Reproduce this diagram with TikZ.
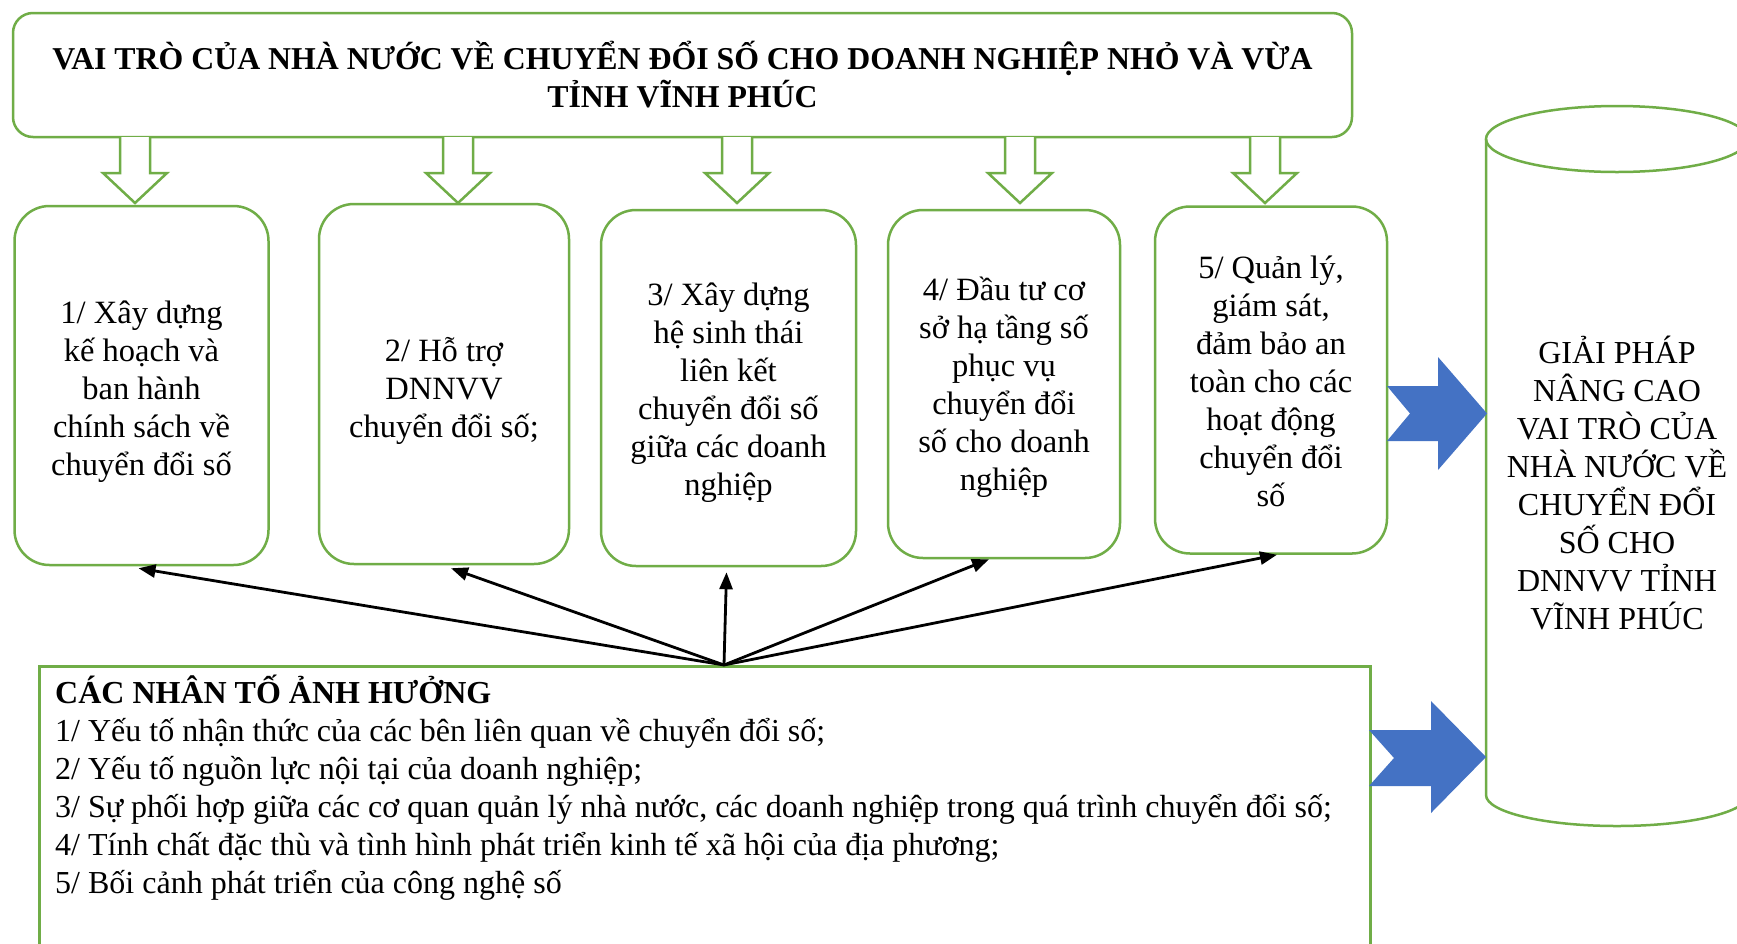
\documentclass[tikz,border=0pt]{standalone}
\usepackage{fontspec}
\setmainfont{Liberation Serif}
\usetikzlibrary{arrows.meta}
\definecolor{gr}{RGB}{112,173,71}
\definecolor{bl}{RGB}{68,114,196}
\newcommand{\toppad}[1]{\rule{0pt}{#1pt}}
\begin{document}
\begin{tikzpicture}[x=1pt,y=-1pt,
  gline/.style={draw=gr,line width=2.5pt},
  gbox/.style={gline,rounded corners=35pt,fill=white,align=center,inner sep=0pt,
    font=\fontsize{32.5}{38}\selectfont},
  hollow/.style={gline,fill=white,line join=miter},
  blockarrow/.style={fill=bl,draw=none},
  factor/.style={draw=black,line width=2.8pt,-{Triangle[length=17pt,width=13pt]}},
  txt/.style={inner sep=0pt,font=\fontsize{32}{38}\selectfont}]
\useasboundingbox (0,0) rectangle (1737,943);
\clip (0,0) rectangle (1737,943);
\fill[white] (0,0) rectangle (1737,943);

% top box
\node[gbox,rounded corners=20pt,minimum width=1339pt,minimum height=124pt,
  font=\fontsize{31.8}{38}\selectfont\bfseries] (top) at (682.5,75)
  {VAI TRÒ CỦA NHÀ NƯỚC VỀ CHUYỂN ĐỔI SỐ CHO DOANH NGHIỆP NHỎ VÀ VỪA\\TỈNH VĨNH PHÚC};

% five role boxes
\node[gbox,minimum width=254pt,minimum height=359pt] (b1) at (141.5,385.5)
  {\toppad{34}1/ Xây dựng\\kế hoạch và\\ban hành\\chính sách về\\chuyển đổi số};
\node[gbox,minimum width=250pt,minimum height=360pt] (b2) at (444,384)
  {\toppad{38}2/ Hỗ trợ\\DNNVV\\chuyển đổi số;};
\node[gbox,minimum width=255pt,minimum height=356pt] (b3) at (728.5,388)
  {\toppad{32}3/ Xây dựng\\hệ sinh thái\\liên kết\\chuyển đổi số\\giữa các doanh\\nghiệp};
\node[gbox,minimum width=232pt,minimum height=348pt] (b4) at (1004,384)
  {\toppad{30}4/ Đầu tư cơ\\sở hạ tầng số\\phục vụ\\chuyển đổi\\số cho doanh\\nghiệp};
\node[gbox,minimum width=232pt,minimum height=347pt] (b5) at (1271,380)
  {\toppad{26}5/ Quản lý,\\giám sát,\\đảm bảo an\\toàn cho các\\hoạt động\\chuyển đổi\\số};

% hollow green arrows from top box
\foreach \cx in {135,458,737,1020,1265}{
  \draw[hollow] (\cx-15,137) -- (\cx-15,173) -- (\cx-32,173) -- (\cx,203)
    -- (\cx+32,173) -- (\cx+15,173) -- (\cx+15,137);
}

% cylinder
\draw[gline,fill=white] (1486,139) -- (1486,795)
  arc[start angle=180,end angle=360,x radius=131pt,y radius=31pt] -- (1748,139);
\draw[gline] (1617,139) ellipse [x radius=131pt,y radius=33pt];
\node[txt,align=center] (sol) at (1617,483)
  {GIẢI PHÁP\\NÂNG CAO\\VAI TRÒ CỦA\\NHÀ NƯỚC VỀ\\CHUYỂN ĐỔI\\SỐ CHO\\DNNVV TỈNH\\VĨNH PHÚC};

% factor box
\node[draw=gr,line width=2.5pt,minimum width=1331pt,minimum height=320pt,anchor=north west,
  inner sep=0pt] (fac) at (38,665) {};
\node[txt,align=left,anchor=north west] (factxt) at (55,675)
  {\textbf{CÁC NHÂN TỐ ẢNH HƯỞNG}\\
   1/ Yếu tố nhận thức của các bên liên quan về chuyển đổi số;\\
   2/ Yếu tố nguồn lực nội tại của doanh nghiệp;\\
   3/ Sự phối hợp giữa các cơ quan quản lý nhà nước, các doanh nghiệp trong quá trình chuyển đổi số;\\
   4/ Tính chất đặc thù và tình hình phát triển kinh tế xã hội của địa phương;\\
   5/ Bối cảnh phát triển của công nghệ số};

% black arrows from factors to roles
\coordinate (f) at (724,665);
\draw[factor] (f) -- ([xshift=-3pt,yshift=-2pt]b1.south);
\draw[factor] (f) -- ([xshift=7pt,yshift=-3pt]b2.south);
\draw[factor] (f) -- ([xshift=-2pt,yshift=-5pt]b3.south);
\draw[factor] (f) -- ([xshift=-15pt]b4.south);
\draw[factor] (f) -- ([xshift=6pt]b5.south);

% blue block arrows into the cylinder
\fill[blockarrow] (1387,386) -- (1438,386) -- (1438,357) -- (1487,413.5) -- (1438,470)
  -- (1438,441) -- (1387,441) -- (1410,413.5) -- cycle;
\fill[blockarrow] (1369,730) -- (1431,730) -- (1431,701) -- (1486,757) -- (1431,813)
  -- (1431,786) -- (1369,786) -- (1394,758) -- cycle;
\end{tikzpicture}
\end{document}
